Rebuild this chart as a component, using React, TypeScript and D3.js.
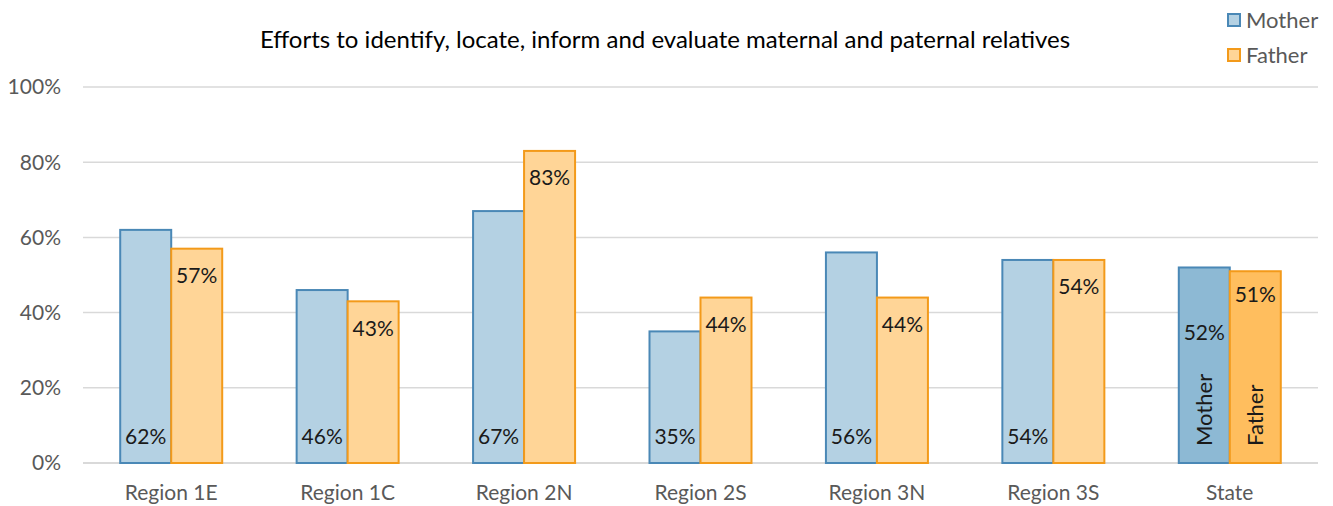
import React from "react";
import * as d3 from "d3";

const categories = ["Region 1E", "Region 1C", "Region 2N", "Region 2S", "Region 3N", "Region 3S", "State"];
const motherValues = [62, 46, 67, 35, 56, 54, 52];
const fatherValues = [57, 43, 83, 44, 44, 54, 51];
const yTicks = [0, 20, 40, 60, 80, 100];
const seriesNames = ["Mother", "Father"];
const title = "Efforts to identify, locate, inform and evaluate maternal and paternal relatives";

const W = 1333, H = 506;
const FONT = "Lato, 'Open Sans', sans-serif";

export default function App() {
  const x = d3.scaleBand<string>().domain(categories).range([83, 1318]).paddingInner(0).paddingOuter(0);
  const y = d3.scaleLinear().domain([0, 100]).range([463, 87]);
  const bw = 51;
  const colors = {
    m: { fill: "#B4D1E3", stroke: "#4A88B6" },
    f: { fill: "#FFD597", stroke: "#F39A1A" },
    mS: { fill: "#8DB9D4", stroke: "#4A88B6" },
    fS: { fill: "#FFBE5E", stroke: "#F39A1A" },
  };
  const lab = 21;
  return (
    <svg width={W} height={H} style={{ position: "absolute", left: 0, top: 0, background: "#fff" }} fontFamily={FONT}>
      <text x={665} y={48} textAnchor="middle" fontSize={24} fill="#000">{title}</text>
      {yTicks.map((t) => (
        <g key={t}>
          <line x1={83} x2={1318} y1={y(t)} y2={y(t)} stroke="#D9D9D9" strokeWidth={t === 0 ? 2 : 1.5} />
          <text x={61} y={y(t)} dy="0.35em" textAnchor="end" fontSize={21} fill="#595959">{t}%</text>
        </g>
      ))}
      {categories.map((c, i) => {
        const cx = x(c)! + x.bandwidth() / 2;
        const isState = c === "State";
        const m = motherValues[i], f = fatherValues[i];
        const mc = isState ? colors.mS : colors.m;
        const fc = isState ? colors.fS : colors.f;
        const mx = cx - bw, fx = cx;
        return (
          <g key={c}>
            <rect x={mx} y={y(m)} width={bw} height={y(0) - y(m)} fill={mc.fill} stroke={mc.stroke} strokeWidth={2} />
            <rect x={fx} y={y(f)} width={bw} height={y(0) - y(f)} fill={fc.fill} stroke={fc.stroke} strokeWidth={2} />
            {isState ? (
              <>
                <text x={mx + bw / 2} y={y(m) + 65} dy="0.35em" textAnchor="middle" fontSize={lab} fill="#1a1a1a">{m}%</text>
                <text x={fx + bw / 2} y={y(f) + 23} dy="0.35em" textAnchor="middle" fontSize={lab} fill="#1a1a1a">{f}%</text>
                <text transform={`translate(${mx + bw / 2 + 8},${446}) rotate(-90)`} fontSize={22} fill="#1a1a1a">{seriesNames[0]}</text>
                <text transform={`translate(${fx + bw / 2 + 8},${446}) rotate(-90)`} fontSize={22} fill="#1a1a1a">{seriesNames[1]}</text>
              </>
            ) : (
              <>
                <text x={mx + bw / 2} y={437} dy="0.35em" textAnchor="middle" fontSize={lab} fill="#1a1a1a">{m}%</text>
                <text x={fx + bw / 2} y={y(f) + 27} dy="0.35em" textAnchor="middle" fontSize={lab} fill="#1a1a1a">{f}%</text>
              </>
            )}
            <text x={cx} y={493} dy="0.35em" textAnchor="middle" fontSize={21} fill="#595959">{c}</text>
          </g>
        );
      })}
      {seriesNames.map((s, i) => {
        const c = i === 0 ? colors.m : colors.f;
        const ly = 20 + i * 35;
        return (
          <g key={s}>
            <rect x={1228} y={ly - 6} width={12} height={12} fill={c.fill} stroke={c.stroke} strokeWidth={2} />
            <text x={1246} y={ly} dy="0.35em" fontSize={22} fill="#595959">{s}</text>
          </g>
        );
      })}
    </svg>
  );
}
